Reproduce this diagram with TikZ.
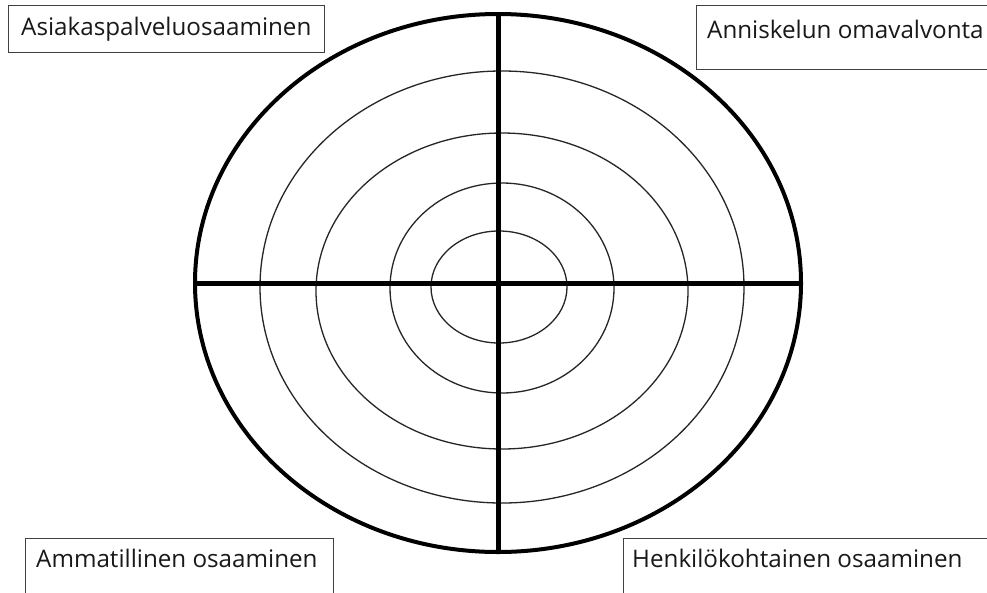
\documentclass[tikz,border=0pt]{standalone}
\usepackage{fontspec}
\setmainfont{Open Sans}
\begin{document}
\begin{tikzpicture}[x=1pt,y=-1pt,
  ring/.style={draw=black!85, line width=1.3pt},
  outerring/.style={draw=black, line width=4pt},
  axis/.style={draw=black, line width=5pt},
  box/.style={draw=black!75, line width=1.2pt, rectangle, inner sep=0pt, anchor=north west},
  lbl/.style={font=\fontsize{24.2}{29}\selectfont, text=black!90, inner sep=0pt, anchor=base west}]
\useasboundingbox (0,0) rectangle (987,592);
\clip (0,0) rectangle (987,592);
\fill[white] (0,0) rectangle (987,592);
% rings
\draw[outerring] (498,283) ellipse [x radius=303, y radius=269];
\draw[ring] (502,287) ellipse [x radius=242, y radius=216];
\draw[ring] (502,291) ellipse [x radius=186, y radius=158];
\draw[ring] (502,288) ellipse [x radius=112, y radius=105];
\draw[ring] (499,287) ellipse [x radius=68, y radius=56];
% axes
\coordinate (vtop) at (498,14);
\coordinate (vbot) at (498,552);
\coordinate (hleft) at (195,283);
\coordinate (hright) at (801,283);
\draw[axis] (vtop) -- (vbot);
\draw[axis] (hleft) -- (hright);
% boxes
\node[box, minimum width=316, minimum height=47] (b1) at (8,5) {};
\node[box, minimum width=310, minimum height=64] (b2) at (696,5) {};
\node[box, minimum width=308, minimum height=70] (b3) at (25,538) {};
\node[box, minimum width=380, minimum height=70] (b4) at (623,538) {};
% labels
\node[lbl] (t1) at (21,35) {Asiakaspalveluosaaminen};
\node[lbl] (t2) at (707,38) {Anniskelun omavalvonta};
\node[lbl] (t3) at (36,567) {Ammatillinen osaaminen};
\node[lbl] (t4) at (632,567) {Henkilökohtainen osaaminen};
\end{tikzpicture}
\end{document}
